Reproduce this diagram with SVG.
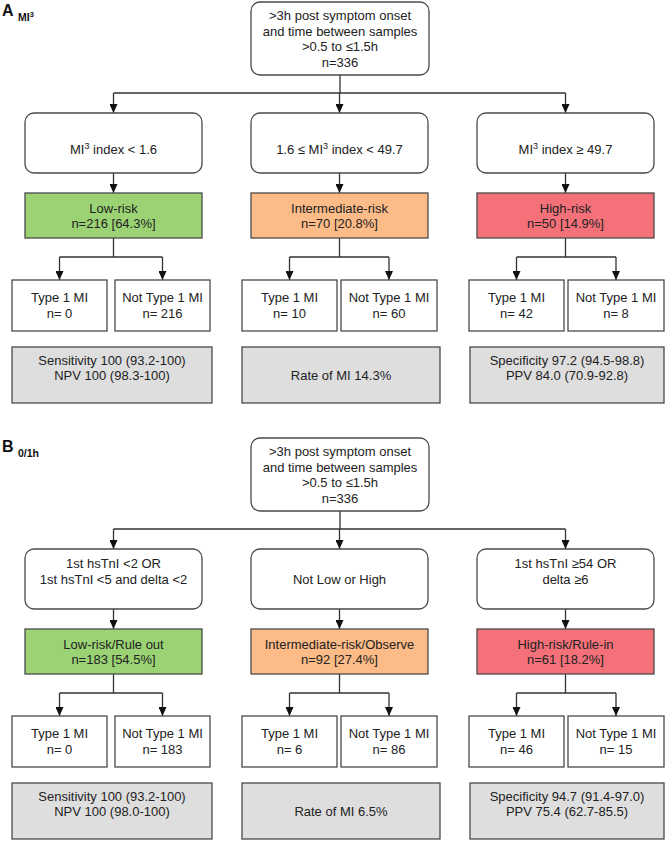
<svg xmlns="http://www.w3.org/2000/svg" width="666" height="841" viewBox="0 0 666 841">
<style>
text{font-family:"Liberation Sans",Arial,sans-serif;font-size:13px;fill:#222;text-anchor:middle}
.lbl{font-weight:bold;text-anchor:start;fill:#111}
.rb{fill:#fff;stroke:#4a4a4a;stroke-width:1.3}
.wb{fill:#fff;stroke:#4a4a4a;stroke-width:1.3}
.gb{fill:#dedede;stroke:#4a4a4a;stroke-width:1.3}
.lo{fill:#9bd374;stroke:#4a4a4a;stroke-width:1.3}
.mid{fill:#fdbb87;stroke:#4a4a4a;stroke-width:1.3}
.hi{fill:#f5717a;stroke:#4a4a4a;stroke-width:1.3}
.ln{fill:none;stroke:#333;stroke-width:1.3}
.ar{fill:none;stroke:#333;stroke-width:1.3;marker-end:url(#ahd)}
</style>
<defs>
<marker id="ahd" markerUnits="userSpaceOnUse" markerWidth="8" markerHeight="9" refX="4" refY="9" viewBox="0 0 8 9" orient="0">
<path d="M0,0 L8,0 L4,9 Z" fill="#111"/>
</marker>
</defs>

<!-- Section A -->
<g id="labelA">
<text class="lbl" x="2" y="16" style="font-size:16px">A</text>
<text class="lbl" x="18" y="21" style="font-size:10.5px">MI<tspan dy="-4" style="font-size:7.5px">3</tspan></text>
</g>

<g id="connectorsA">
<path class="ln" d="M340 75 V93 M113.5 93 H565.5"/>
<path class="ar" d="M113.5 93 V113"/>
<path class="ar" d="M339.5 93 V113"/>
<path class="ar" d="M565.5 93 V113"/>
<path class="ar" d="M113.5 173 V193"/>
<path class="ar" d="M339.5 173 V193"/>
<path class="ar" d="M565.5 173 V193"/>
<path class="ln" d="M113.5 238 V257 M59.5 257 H162.5 M289.5 257 H389 M339.5 238 V257 M516.5 257 H616 M565.5 238 V257"/>
<path class="ar" d="M59.5 257 V280"/>
<path class="ar" d="M162.5 257 V280"/>
<path class="ar" d="M289.5 257 V280"/>
<path class="ar" d="M389 257 V280"/>
<path class="ar" d="M516.5 257 V280"/>
<path class="ar" d="M616 257 V280"/>
</g>

<g id="A_top">
<rect class="rb" x="251" y="2" width="178" height="73" rx="9"/>
<text x="340" y="20">&gt;3h post symptom onset</text>
<text x="340" y="35.5">and time between samples</text>
<text x="340" y="51">&gt;0.5 to ≤1.5h</text>
<text x="340" y="66.5">n=336</text>
</g>

<g id="A_cond_low">
<rect class="rb" x="25" y="113" width="177" height="60" rx="9"/>
<text x="113.5" y="154">MI<tspan dy="-5" style="font-size:9px">3</tspan><tspan dy="5"> index &lt; 1.6</tspan></text>
</g>
<g id="A_cond_mid">
<rect class="rb" x="251" y="113" width="177" height="60" rx="9"/>
<text x="339.5" y="154">1.6 ≤ MI<tspan dy="-5" style="font-size:9px">3</tspan><tspan dy="5"> index &lt; 49.7</tspan></text>
</g>
<g id="A_cond_high">
<rect class="rb" x="477" y="113" width="177" height="60" rx="9"/>
<text x="565.5" y="154">MI<tspan dy="-5" style="font-size:9px">3</tspan><tspan dy="5"> index ≥ 49.7</tspan></text>
</g>

<g id="A_low">
<rect class="lo" x="25" y="193" width="177" height="45"/>
<text x="113.5" y="212.5">Low-risk</text>
<text x="113.5" y="228">n=216 [64.3%]</text>
</g>
<g id="A_mid">
<rect class="mid" x="251" y="193" width="177" height="45"/>
<text x="339.5" y="212.5">Intermediate-risk</text>
<text x="339.5" y="228">n=70 [20.8%]</text>
</g>
<g id="A_high">
<rect class="hi" x="477" y="193" width="177" height="45"/>
<text x="565.5" y="212.5">High-risk</text>
<text x="565.5" y="228">n=50 [14.9%]</text>
</g>

<g id="A_low_t1">
<rect class="wb" x="12" y="280" width="95" height="51"/>
<text x="59.5" y="302">Type 1 MI</text>
<text x="59.5" y="318">n= 0</text>
</g>
<g id="A_low_nt1">
<rect class="wb" x="115" y="280" width="95" height="51"/>
<text x="162.5" y="302">Not Type 1 MI</text>
<text x="162.5" y="318">n= 216</text>
</g>
<g id="A_mid_t1">
<rect class="wb" x="242" y="280" width="95" height="51"/>
<text x="289.5" y="302">Type 1 MI</text>
<text x="289.5" y="318">n= 10</text>
</g>
<g id="A_mid_nt1">
<rect class="wb" x="341" y="280" width="96" height="51"/>
<text x="389" y="302">Not Type 1 MI</text>
<text x="389" y="318">n= 60</text>
</g>
<g id="A_high_t1">
<rect class="wb" x="469" y="280" width="95" height="51"/>
<text x="516.5" y="302">Type 1 MI</text>
<text x="516.5" y="318">n= 42</text>
</g>
<g id="A_high_nt1">
<rect class="wb" x="568" y="280" width="96" height="51"/>
<text x="616" y="302">Not Type 1 MI</text>
<text x="616" y="318">n= 8</text>
</g>

<g id="A_stat_low">
<rect class="gb" x="12" y="347" width="200" height="56"/>
<text x="112" y="364.5">Sensitivity 100 (93.2-100)</text>
<text x="112" y="380">NPV 100 (98.3-100)</text>
</g>
<g id="A_stat_mid">
<rect class="gb" x="242" y="347" width="198" height="56"/>
<text x="341" y="380">Rate of MI 14.3%</text>
</g>
<g id="A_stat_high">
<rect class="gb" x="470" y="347" width="194" height="56"/>
<text x="567" y="364.5">Specificity 97.2 (94.5-98.8)</text>
<text x="567" y="380">PPV 84.0 (70.9-92.8)</text>
</g>

<!-- Section B -->
<g id="labelB">
<text class="lbl" x="2" y="452" style="font-size:16px">B</text>
<text class="lbl" x="18" y="457" style="font-size:10.5px">0/1h</text>
</g>

<g id="connectorsB">
<path class="ln" d="M340 511 V529 M113.5 529 H565.5"/>
<path class="ar" d="M113.5 529 V549"/>
<path class="ar" d="M339.5 529 V549"/>
<path class="ar" d="M565.5 529 V549"/>
<path class="ar" d="M113.5 609 V629"/>
<path class="ar" d="M339.5 609 V629"/>
<path class="ar" d="M565.5 609 V629"/>
<path class="ln" d="M113.5 674 V693 M59.5 693 H162.5 M289.5 693 H389 M339.5 674 V693 M516.5 693 H616 M565.5 674 V693"/>
<path class="ar" d="M59.5 693 V716"/>
<path class="ar" d="M162.5 693 V716"/>
<path class="ar" d="M289.5 693 V716"/>
<path class="ar" d="M389 693 V716"/>
<path class="ar" d="M516.5 693 V716"/>
<path class="ar" d="M616 693 V716"/>
</g>

<g id="B_top">
<rect class="rb" x="251" y="438" width="178" height="73" rx="9"/>
<text x="340" y="456">&gt;3h post symptom onset</text>
<text x="340" y="471.5">and time between samples</text>
<text x="340" y="487">&gt;0.5 to ≤1.5h</text>
<text x="340" y="502.5">n=336</text>
</g>

<g id="B_cond_low">
<rect class="rb" x="25" y="549" width="177" height="60" rx="9"/>
<text x="113.5" y="568">1st hsTnI &lt;2 OR</text>
<text x="113.5" y="583.5">1st hsTnI &lt;5 and delta &lt;2</text>
</g>
<g id="B_cond_mid">
<rect class="rb" x="251" y="549" width="177" height="60" rx="9"/>
<text x="339.5" y="583.5">Not Low or High</text>
</g>
<g id="B_cond_high">
<rect class="rb" x="477" y="549" width="177" height="60" rx="9"/>
<text x="565.5" y="568">1st hsTnI ≥54 OR</text>
<text x="565.5" y="583.5">delta ≥6</text>
</g>

<g id="B_low">
<rect class="lo" x="25" y="629" width="177" height="45"/>
<text x="113.5" y="648.5">Low-risk/Rule out</text>
<text x="113.5" y="664">n=183 [54.5%]</text>
</g>
<g id="B_mid">
<rect class="mid" x="251" y="629" width="177" height="45"/>
<text x="339.5" y="648.5">Intermediate-risk/Observe</text>
<text x="339.5" y="664">n=92 [27.4%]</text>
</g>
<g id="B_high">
<rect class="hi" x="477" y="629" width="177" height="45"/>
<text x="565.5" y="648.5">High-risk/Rule-in</text>
<text x="565.5" y="664">n=61 [18.2%]</text>
</g>

<g id="B_low_t1">
<rect class="wb" x="12" y="716" width="95" height="51"/>
<text x="59.5" y="738">Type 1 MI</text>
<text x="59.5" y="754">n= 0</text>
</g>
<g id="B_low_nt1">
<rect class="wb" x="115" y="716" width="95" height="51"/>
<text x="162.5" y="738">Not Type 1 MI</text>
<text x="162.5" y="754">n= 183</text>
</g>
<g id="B_mid_t1">
<rect class="wb" x="242" y="716" width="95" height="51"/>
<text x="289.5" y="738">Type 1 MI</text>
<text x="289.5" y="754">n= 6</text>
</g>
<g id="B_mid_nt1">
<rect class="wb" x="341" y="716" width="96" height="51"/>
<text x="389" y="738">Not Type 1 MI</text>
<text x="389" y="754">n= 86</text>
</g>
<g id="B_high_t1">
<rect class="wb" x="469" y="716" width="95" height="51"/>
<text x="516.5" y="738">Type 1 MI</text>
<text x="516.5" y="754">n= 46</text>
</g>
<g id="B_high_nt1">
<rect class="wb" x="568" y="716" width="96" height="51"/>
<text x="616" y="738">Not Type 1 MI</text>
<text x="616" y="754">n= 15</text>
</g>

<g id="B_stat_low">
<rect class="gb" x="12" y="783" width="200" height="56"/>
<text x="112" y="800.5">Sensitivity 100 (93.2-100)</text>
<text x="112" y="816">NPV 100 (98.0-100)</text>
</g>
<g id="B_stat_mid">
<rect class="gb" x="242" y="783" width="198" height="56"/>
<text x="341" y="816">Rate of MI 6.5%</text>
</g>
<g id="B_stat_high">
<rect class="gb" x="470" y="783" width="194" height="56"/>
<text x="567" y="800.5">Specificity 94.7 (91.4-97.0)</text>
<text x="567" y="816">PPV 75.4 (62.7-85.5)</text>
</g>
</svg>
